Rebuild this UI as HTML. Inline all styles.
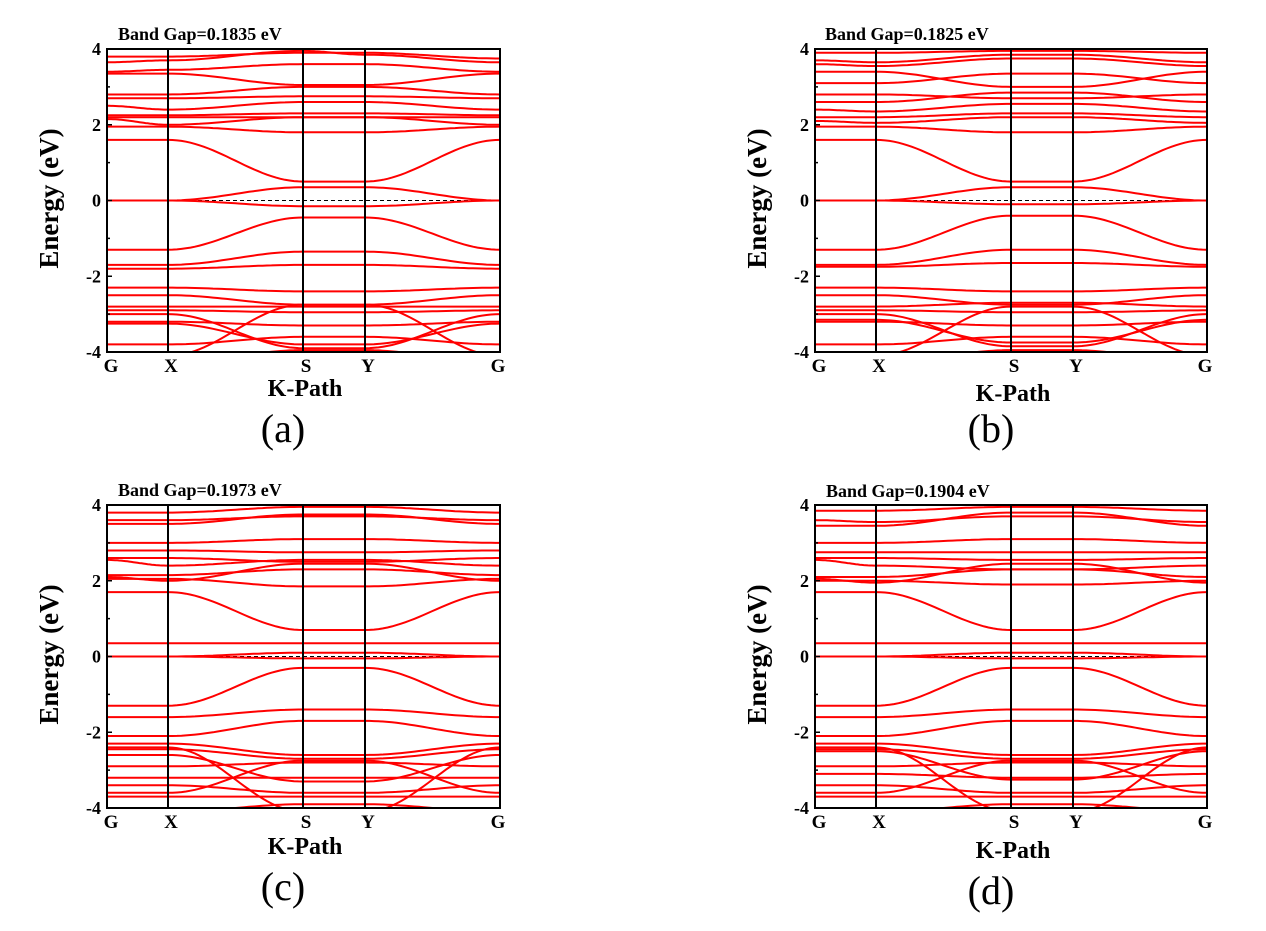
<!DOCTYPE html>
<html><head><meta charset="utf-8"><style>
body{margin:0;background:#fff;}
svg{display:block;font-family:"Liberation Serif",serif;}
</style></head><body>
<svg id="fig" width="1266" height="931" viewBox="0 0 1266 931" xmlns="http://www.w3.org/2000/svg"></svg>
<script>
// band energies at knots [G, X, S, Y, G]
const kLabels = ["G","X","S","Y","G"];
const yTicks = [-4,-2,0,2,4];
const gapLabels = ["Band Gap=0.1835 eV","Band Gap=0.1825 eV","Band Gap=0.1973 eV","Band Gap=0.1904 eV"];
const panelLetters = ["(a)","(b)","(c)","(d)"];
const bandsA = [
[3.8,3.8,3.9,3.9,3.75],[3.65,3.7,3.95,3.85,3.65],[3.4,3.45,3.6,3.6,3.4],[3.35,3.35,3.05,3.05,3.35],
[2.8,2.8,3.0,3.0,2.8],[2.7,2.7,2.75,2.75,2.7],[2.5,2.4,2.6,2.6,2.4],[2.25,2.25,2.3,2.3,2.25],
[2.2,2.2,2.2,2.2,2.2],[2.15,2.0,2.2,2.2,2.0],[1.95,1.95,1.8,1.8,1.95],[1.6,1.6,0.5,0.5,1.6],
[0,0,0.35,0.35,0],[0,0,-0.15,-0.15,0],[-1.3,-1.3,-0.45,-0.45,-1.3],[-1.7,-1.7,-1.35,-1.35,-1.7],
[-1.8,-1.8,-1.7,-1.7,-1.8],[-2.3,-2.3,-2.4,-2.4,-2.3],[-2.5,-2.5,-2.75,-2.75,-2.5],[-2.8,-2.8,-2.8,-2.8,-2.8],
[-2.9,-2.9,-2.95,-2.95,-2.9],[-3.0,-3.0,-3.9,-3.9,-3.0],[-3.2,-3.2,-3.3,-3.3,-3.2],[-3.25,-3.25,-3.8,-3.8,-3.25],
[-3.8,-3.8,-3.6,-3.6,-3.8],[-4.2,-4.1,-2.75,-2.75,-4.1],[-4.3,-4.3,-3.95,-3.95,-4.3]
];
const bandsB = [
[3.9,3.9,3.95,3.95,3.9],[3.7,3.65,3.85,3.85,3.65],[3.6,3.55,3.75,3.75,3.55],[3.4,3.4,3.0,3.0,3.4],
[3.1,3.1,3.35,3.35,3.1],[2.8,2.8,2.7,2.7,2.8],[2.6,2.6,2.85,2.85,2.6],[2.4,2.35,2.55,2.55,2.35],
[2.2,2.2,2.3,2.3,2.2],[2.1,2.05,2.2,2.2,2.05],[1.95,1.95,1.8,1.8,1.95],[1.6,1.6,0.5,0.5,1.6],
[0,0,0.35,0.35,0],[0,0,-0.1,-0.1,0],[-1.3,-1.3,-0.4,-0.4,-1.3],[-1.7,-1.7,-1.3,-1.3,-1.7],
[-1.75,-1.75,-1.65,-1.65,-1.75],[-2.3,-2.3,-2.4,-2.4,-2.3],[-2.5,-2.5,-2.75,-2.75,-2.5],[-2.8,-2.8,-2.7,-2.7,-2.8],
[-2.9,-2.9,-2.95,-2.95,-2.9],[-3.0,-3.0,-3.85,-3.85,-3.0],[-3.2,-3.2,-3.3,-3.3,-3.2],[-3.15,-3.15,-3.75,-3.75,-3.15],
[-3.8,-3.8,-3.6,-3.6,-3.8],[-4.2,-4.1,-2.8,-2.8,-4.1],[-4.3,-4.3,-3.95,-3.95,-4.3]
];
const bandsC = [
[3.8,3.8,3.95,3.95,3.8],[3.6,3.6,3.7,3.7,3.6],[3.5,3.5,3.75,3.75,3.5],[3.0,3.0,3.1,3.1,3.0],
[2.8,2.8,2.75,2.75,2.8],[2.6,2.6,2.5,2.5,2.6],[2.55,2.4,2.55,2.55,2.4],[2.15,2.15,2.3,2.3,2.15],
[2.05,2.05,1.85,1.85,2.05],[2.1,2.0,2.45,2.45,2.0],[1.7,1.7,0.7,0.7,1.7],[0.35,0.35,0.35,0.35,0.35],
[0,0,0.1,0.1,0],[0,0,-0.05,-0.05,0],[-1.3,-1.3,-0.3,-0.3,-1.3],[-1.6,-1.6,-1.4,-1.4,-1.6],
[-2.1,-2.1,-1.7,-1.7,-2.1],[-2.3,-2.3,-2.6,-2.6,-2.3],[-2.4,-2.4,-4.1,-4.1,-2.4],[-2.45,-2.45,-2.7,-2.7,-2.45],
[-2.9,-2.9,-2.8,-2.8,-2.9],[-3.2,-3.2,-3.2,-3.2,-3.2],[-3.4,-3.4,-3.6,-3.6,-3.4],[-3.6,-3.6,-2.75,-2.75,-3.6],
[-3.7,-3.7,-3.7,-3.7,-3.7],[-4.1,-4.1,-3.9,-3.9,-4.1],[-2.6,-2.6,-3.3,-3.3,-2.6]
];
const bandsD = [
[3.85,3.85,3.95,3.95,3.85],[3.6,3.55,3.7,3.7,3.55],[3.45,3.45,3.8,3.8,3.45],[3.0,3.0,3.1,3.1,3.0],
[2.75,2.75,2.75,2.75,2.75],[2.6,2.6,2.55,2.55,2.6],[2.55,2.4,2.3,2.3,2.4],[2.1,2.1,2.3,2.3,2.1],
[2.0,2.0,1.9,1.9,2.0],[2.05,1.95,2.45,2.45,1.95],[1.7,1.7,0.7,0.7,1.7],[0.35,0.35,0.35,0.35,0.35],
[0,0,0.1,0.1,0],[0,0,-0.05,-0.05,0],[-1.3,-1.3,-0.3,-0.3,-1.3],[-1.6,-1.6,-1.4,-1.4,-1.6],
[-2.1,-2.1,-1.7,-1.7,-2.1],[-2.3,-2.3,-2.6,-2.6,-2.3],[-2.4,-2.4,-4.1,-4.1,-2.4],[-2.45,-2.45,-2.7,-2.7,-2.45],
[-2.9,-2.9,-2.8,-2.8,-2.9],[-3.1,-3.1,-3.2,-3.2,-3.1],[-3.4,-3.4,-3.6,-3.6,-3.4],[-3.6,-3.6,-2.75,-2.75,-3.6],
[-3.7,-3.7,-3.7,-3.7,-3.7],[-4.1,-4.1,-3.9,-3.9,-4.1],[-2.5,-2.5,-3.25,-3.25,-2.5]
];
const allBands = [bandsA,bandsB,bandsC,bandsD];
const panels = [
 {x0:107,top:49,kx:[107,168,303,365,500],titleX:118,titleY:40,ylabX:58,kpY:396,letY:442},
 {x0:815,top:49,kx:[815,876,1011,1073,1207],titleX:825,titleY:40,ylabX:766,kpY:401,letY:442},
 {x0:107,top:505,kx:[107,168,303,365,500],titleX:118,titleY:496,ylabX:58,kpY:854,letY:900},
 {x0:815,top:505,kx:[815,876,1011,1073,1207],titleX:826,titleY:497,ylabX:766,kpY:858,letY:904}
];
const H=303, NS="http://www.w3.org/2000/svg";
const svg=document.getElementById('fig');
function mk(tag,attrs,parent){const e=document.createElementNS(NS,tag);for(const k in attrs)e.setAttribute(k,attrs[k]);(parent||svg).appendChild(e);return e;}
panels.forEach((p,pi)=>{
 const g=mk('g',{});
 
 
 const yS=e=>p.top+(4-e)/8*H;
 const x1=p.kx[4];
 const clip=mk('clipPath',{id:'c'+pi},g);
 mk('rect',{x:p.x0,y:p.top,width:x1-p.x0,height:H},clip);
 const pg=mk('g',{'clip-path':'url(#c'+pi+')'},g);
 const z=mk('line',{x1:p.x0,x2:x1,y1:yS(0),y2:yS(0),stroke:'#000','stroke-width':1,'stroke-dasharray':'4,3'},pg);
 
 
 allBands[pi].forEach((b,bi)=>{
  let d='';
  for(let s=0;s<4;s++){
   const xa=p.kx[s],xb=p.kx[s+1],n=30;
   for(let i=0;i<=n;i++){
    const t=i/n,w=(1-Math.cos(Math.PI*t))/2;
    const e=b[s]+(b[s+1]-b[s])*w;
    d+=(d?'L':'M')+(xa+(xb-xa)*t).toFixed(1)+','+yS(e).toFixed(1);
   }
  }
  const path=mk('path',{d:d,fill:'none',stroke:'#f00','stroke-width':2},pg);
  
  
 });
 [1,2,3].forEach(i=>{const l=mk('line',{x1:p.kx[i],x2:p.kx[i],y1:p.top,y2:p.top+H,stroke:'#000','stroke-width':2},g);
  
  });
 const fr=mk('rect',{x:p.x0,y:p.top,width:x1-p.x0,height:H,fill:'none',stroke:'#000','stroke-width':2},g);
 
 
 for(let e=-4;e<=4;e++){
  mk('line',{x1:p.x0,x2:p.x0+(e%2===0?5:3),y1:yS(e),y2:yS(e),stroke:'#000','stroke-width':1.5},g);
 }
 yTicks.forEach(v=>{const t=mk('text',{x:p.x0-6,y:yS(v)+6,'text-anchor':'end','font-size':18,'font-weight':'bold'},g);t.textContent=v;
  
  });
 kLabels.forEach((k,i)=>{const t=mk('text',{x:p.kx[i]+(i===0?4:i===4?-2:3),y:p.top+H+20,'text-anchor':'middle','font-size':19,'font-weight':'bold'},g);t.textContent=k;
  
  });
 const yl=mk('text',{x:p.ylabX,y:p.top+H/2-2,'text-anchor':'middle','font-size':27,'font-weight':'bold',transform:'rotate(-90 '+p.ylabX+' '+(p.top+H/2-2)+')'},g);yl.textContent='Energy (eV)';
 
 
 const xl=mk('text',{x:p.kx[2]+2,y:p.kpY,'text-anchor':'middle','font-size':24,'font-weight':'bold'},g);xl.textContent='K-Path';
 
 
 const ti=mk('text',{x:p.titleX,y:p.titleY,'font-size':18,'font-weight':'bold'},g);ti.textContent=gapLabels[pi];
 
 
 const le=mk('text',{x:p.kx[2]-20,y:p.letY,'text-anchor':'middle','font-size':40},g);le.textContent=panelLetters[pi];
 
 
});
</script>
</body></html>
